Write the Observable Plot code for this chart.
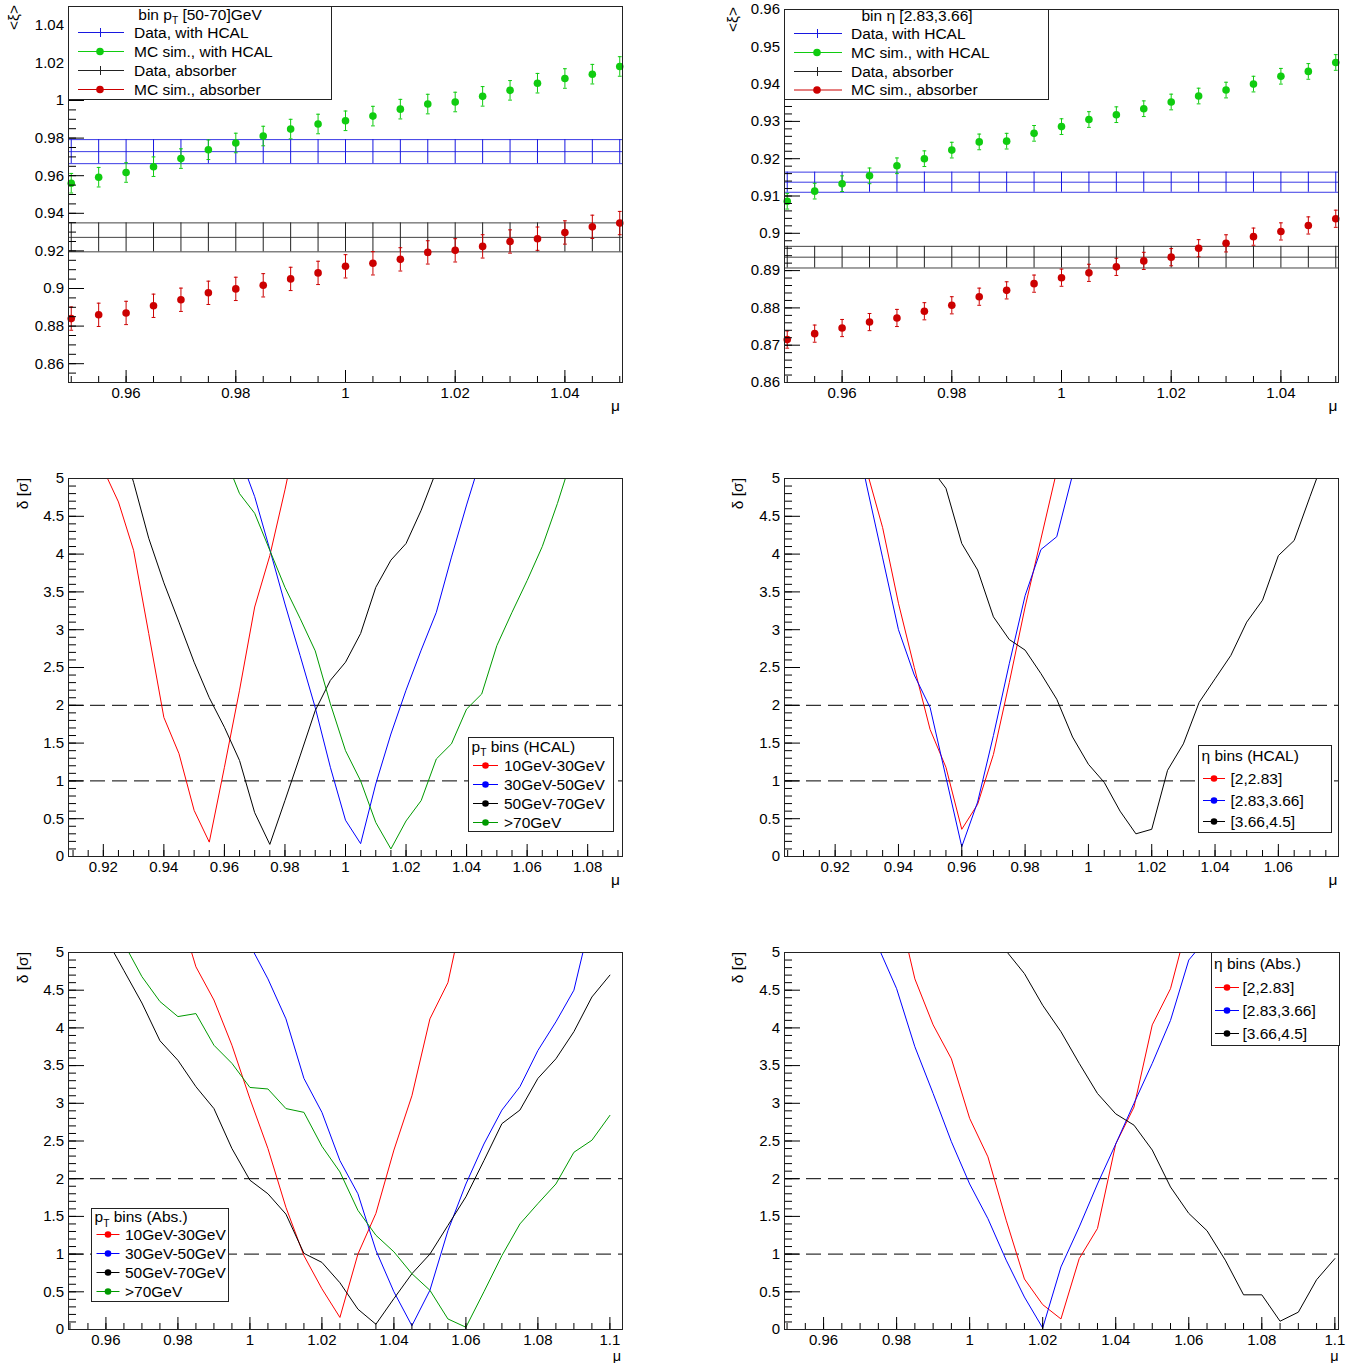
<!DOCTYPE html>
<html><head><meta charset="utf-8">
<script src="https://cdn.jsdelivr.net/npm/d3@7"></script>
<script src="https://cdn.jsdelivr.net/npm/@observablehq/plot@0.6"></script>
<style>
html,body{margin:0;padding:0;background:#fff;}
#root{position:relative;width:1359px;height:1363px;overflow:hidden;background:#fff;}
#root > svg{position:absolute;}
</style></head><body><div id="root"></div>
<script>
const FONT = '"Liberation Sans", Arial, Helvetica, sans-serif';

// ---------------- top panels : <xi> vs mu ----------------
const muTop = [0.95,0.955,0.96,0.965,0.97,0.975,0.98,0.985,0.99,0.995,1,1.005,1.01,1.015,1.02,1.025,1.03,1.035,1.04,1.045,1.05];
// pT bin [50-70] GeV
const mcHcalPt = [0.956,0.9592,0.9617,0.9648,0.9691,0.9738,0.9774,0.9811,0.9848,0.9875,0.9892,0.9917,0.9954,0.9981,0.9992,1.0022,1.0054,1.0092,1.0117,1.014,1.0181];
const mcAbsPt  = [0.884,0.886,0.887,0.8908,0.894,0.8977,0.8998,0.9017,0.9051,0.9083,0.9118,0.9134,0.9155,0.9192,0.9203,0.9224,0.925,0.9265,0.9298,0.9328,0.9348];
const mcHcalPtErr = 0.0052, mcAbsPtErr = 0.0062;
const dataHcalPt = 0.9728, dataHcalPtErr = 0.0064;
const dataAbsPt = 0.9272, dataAbsPtErr = 0.0077;
// eta bin [2.83,3.66]
const mcHcalEta = [0.9086,0.9113,0.9133,0.9154,0.9181,0.92,0.9223,0.9245,0.9247,0.9268,0.9286,0.9305,0.9318,0.9334,0.9352,0.9368,0.9384,0.94,0.9421,0.9434,0.9458];
const mcAbsEta  = [0.8715,0.8731,0.8746,0.8762,0.8773,0.8791,0.8807,0.883,0.8847,0.8865,0.8881,0.8894,0.891,0.8926,0.8936,0.896,0.8973,0.8991,0.9005,0.9021,0.9039];
const mcHcalEtaErr = 0.0021, mcAbsEtaErr = 0.0023;
const dataHcalEta = 0.9137, dataHcalEtaErr = 0.0027;
const dataAbsEta = 0.8936, dataAbsEtaErr = 0.0029;

// ---------------- middle-left : pT bins (HCAL) ----------------
const muHcalPt10 = [0.92,0.925,0.93,0.935,0.94,0.945,0.95,0.955,0.96,0.965,0.97,0.975,0.98,0.985];
const dHcalPt10  = [5.12,4.69,4.05,2.95,1.84,1.36,0.61,0.19,1.18,2.2,3.3,3.98,4.85,5.8];
const muHcalPt30 = [0.965,0.97,0.975,0.98,0.985,0.99,0.995,1,1.005,1.01,1.015,1.02,1.025,1.03,1.035,1.04,1.045];
const dHcalPt30  = [5.3,4.76,4.06,3.34,2.66,1.97,1.18,0.48,0.17,0.96,1.62,2.2,2.73,3.23,3.96,4.65,5.3];
const muHcalPt50 = [0.925,0.93,0.935,0.94,0.945,0.95,0.955,0.96,0.965,0.97,0.975,0.98,0.985,0.99,0.995,1,1.005,1.01,1.015,1.02,1.025,1.03];
const dHcalPt50  = [5.6,4.95,4.21,3.62,3.1,2.57,2.1,1.71,1.27,0.58,0.16,0.74,1.33,1.93,2.33,2.57,2.95,3.56,3.92,4.14,4.58,5.1];
const muHcalPt70 = [0.96,0.965,0.97,0.975,0.98,0.985,0.99,0.995,1,1.005,1.01,1.015,1.02,1.025,1.03,1.035,1.04,1.045,1.05,1.055,1.06,1.065,1.07,1.075];
const dHcalPt70  = [5.3,4.8,4.54,4.05,3.56,3.15,2.72,2.02,1.4,1.0,0.45,0.1,0.47,0.74,1.29,1.49,1.95,2.15,2.79,3.23,3.65,4.1,4.67,5.3];

// ---------------- middle-right : eta bins (HCAL) ----------------
const muHcalEta1 = [0.925,0.93,0.935,0.94,0.945,0.95,0.955,0.96,0.965,0.97,0.975,0.98,0.985,0.99];
const dHcalEta1  = [6.1,5.1,4.35,3.35,2.5,1.68,1.18,0.36,0.69,1.35,2.3,3.3,4.2,5.1];
const muHcalEta2 = [0.925,0.93,0.935,0.94,0.945,0.95,0.955,0.96,0.965,0.97,0.975,0.98,0.985,0.99,0.995,1];
const dHcalEta2  = [5.9,4.9,3.95,3.0,2.4,1.97,1.05,0.13,0.72,1.6,2.55,3.45,4.06,4.23,5.05,5.9];
const muHcalEta3 = [0.95,0.955,0.96,0.965,0.97,0.975,0.98,0.985,0.99,0.995,1,1.005,1.01,1.015,1.02,1.025,1.03,1.035,1.04,1.045,1.05,1.055,1.06,1.065,1.07,1.075];
const dHcalEta3  = [5.15,4.87,4.14,3.79,3.17,2.87,2.73,2.42,2.08,1.58,1.22,0.98,0.6,0.3,0.36,1.14,1.49,2.04,2.35,2.66,3.1,3.39,3.98,4.18,4.76,5.33];

// ---------------- bottom-left : pT bins (Abs.) ----------------
const muAbsPt10 = [0.98,0.985,0.99,0.995,1,1.005,1.01,1.015,1.02,1.025,1.03,1.035,1.04,1.045,1.05,1.055,1.06];
const dAbsPt10  = [5.6,4.81,4.37,3.77,3.06,2.4,1.62,0.98,0.54,0.16,1.0,1.54,2.38,3.1,4.12,4.6,5.7];
const muAbsPt30 = [1,1.005,1.01,1.015,1.02,1.025,1.03,1.035,1.04,1.045,1.05,1.055,1.06,1.065,1.07,1.075,1.08,1.085,1.09,1.095];
const dAbsPt30  = [5.1,4.65,4.12,3.33,2.88,2.24,1.8,1.05,0.5,0.05,0.52,1.31,1.93,2.46,2.91,3.22,3.7,4.08,4.5,5.5];
const muAbsPt50 = [0.96,0.965,0.97,0.975,0.98,0.985,0.99,0.995,1,1.005,1.01,1.015,1.02,1.025,1.03,1.035,1.04,1.045,1.05,1.055,1.06,1.065,1.07,1.075,1.08,1.085,1.09,1.095,1.1];
const dAbsPt50  = [5.19,4.76,4.33,3.83,3.57,3.22,2.93,2.4,1.98,1.8,1.53,1.01,0.89,0.62,0.27,0.07,0.41,0.74,1.0,1.38,1.76,2.24,2.73,2.91,3.33,3.59,3.95,4.41,4.7];
const muAbsPt70 = [0.965,0.97,0.975,0.98,0.985,0.99,0.995,1,1.005,1.01,1.015,1.02,1.025,1.03,1.035,1.04,1.045,1.05,1.055,1.06,1.065,1.07,1.075,1.08,1.085,1.09,1.095,1.1];
const dAbsPt70  = [5.12,4.68,4.35,4.15,4.19,3.77,3.53,3.21,3.19,2.93,2.88,2.43,2.09,1.58,1.25,1.03,0.74,0.52,0.14,0.03,0.5,0.98,1.4,1.67,1.93,2.35,2.51,2.84];

// ---------------- bottom-right : eta bins (Abs.) ----------------
const muAbsEta1 = [0.98,0.985,0.99,0.995,1,1.005,1.01,1.015,1.02,1.025,1.03,1.035,1.04,1.045,1.05,1.055,1.06];
const dAbsEta1  = [5.68,4.65,4.04,3.59,2.8,2.29,1.45,0.67,0.33,0.14,0.94,1.34,2.46,2.95,4.04,4.52,5.44];
const muAbsEta2 = [0.975,0.98,0.985,0.99,0.995,1,1.005,1.01,1.015,1.02,1.025,1.03,1.035,1.04,1.045,1.05,1.055,1.06,1.065];
const dAbsEta2  = [5.07,4.52,3.75,3.13,2.49,1.93,1.47,0.92,0.43,0.02,0.83,1.36,1.93,2.46,3.0,3.53,4.1,4.9,5.19];
const muAbsEta3 = [1.005,1.01,1.015,1.02,1.025,1.03,1.035,1.04,1.045,1.05,1.055,1.06,1.065,1.07,1.075,1.08,1.085,1.09,1.095,1.1];
const dAbsEta3  = [5.6,5.02,4.72,4.3,3.95,3.53,3.13,2.86,2.71,2.38,1.89,1.54,1.31,0.92,0.46,0.46,0.11,0.23,0.66,0.94];

// ---------------- ticks ----------------
const xTicksTop = [0.96,0.98,1,1.02,1.04];
const yTicksTL = [0.86,0.88,0.9,0.92,0.94,0.96,0.98,1,1.02,1.04];
const yTicksTR = [0.86,0.87,0.88,0.89,0.9,0.91,0.92,0.93,0.94,0.95,0.96];
const xTicksML = [0.92,0.94,0.96,0.98,1,1.02,1.04,1.06,1.08];
const xTicksMR = [0.92,0.94,0.96,0.98,1,1.02,1.04,1.06];
const xTicksBot = [0.96,0.98,1,1.02,1.04,1.06,1.08,1.1];
const yTicksDelta = [0,0.5,1,1.5,2,2.5,3,3.5,4,4.5,5];
const sigmaLevels = [1,2];

const cRed = "#ff0000", cBlue = "#0000ff", cBlack = "#000000", cGreen = "#009a00";
const cMcGreen = "#10cc10", cMcRed = "#cc0000", cDataBlue = "#1818e0", cDataBlack = "#222222";

// ---------------- helpers ----------------
const fmt = d => String(+(+d).toFixed(4));
const rng = (a, b, s) => d3.range(Math.round(a / s), Math.round(b / s) + 1).map(i => +(i * s).toFixed(4));
const zip = (xs, ys) => xs.map((x, i) => ({x, y: ys[i]}));
const capSymbol = {draw(ctx, size) { const r = Math.sqrt(size / Math.PI); ctx.moveTo(-r, 0); ctx.lineTo(r, 0); }};
const root = document.getElementById("root");

function panel(cfg) {
  const fw = cfg.width - cfg.ml - cfg.mr, fh = cfg.height - cfg.mt - cfg.mb;
  const svg = Plot.plot({
    width: cfg.width, height: cfg.height,
    marginLeft: cfg.ml, marginRight: cfg.mr, marginTop: cfg.mt, marginBottom: cfg.mb,
    x: {domain: cfg.xDomain, ticks: cfg.xMajor, tickSize: 0, tickPadding: 4.5, tickFormat: fmt, label: null},
    y: {domain: cfg.yDomain, ticks: cfg.yMajor, tickSize: 0, tickPadding: 4.5, tickFormat: fmt, label: null},
    style: {fontFamily: FONT, fontSize: "15px", color: "#000", background: "transparent"},
    marks: [
      ...cfg.marks,
      Plot.tickX(cfg.xMinor, {x: d => d, insetTop: fh - 6, stroke: "#000"}),
      Plot.tickX(cfg.xMajor, {x: d => d, insetTop: fh - 12, stroke: "#000"}),
      Plot.tickY(cfg.yMinor, {y: d => d, insetRight: fw - 8, stroke: "#000"}),
      Plot.tickY(cfg.yMajor, {y: d => d, insetRight: fw - 16, stroke: "#000"}),
      Plot.frame({stroke: "#222"})
    ]
  });
  svg.style.left = cfg.left + "px";
  svg.style.top = cfg.top + "px";
  root.appendChild(svg);
}

function xiMarks(mc1, err1, mc2, err2, d1, e1, d2, e2) {
  const p1 = zip(muTop, mc1), p2 = zip(muTop, mc2);
  const caps = (pts, e) => pts.flatMap(p => [{x: p.x, y: p.y - e}, {x: p.x, y: p.y + e}]);
  const band = (c, e, col) => [
    Plot.ruleY([c - e, c, c + e], {stroke: col, strokeWidth: 1, strokeOpacity: 0.85}),
    Plot.ruleX(muTop, {x: d => d, y1: c - e, y2: c + e, stroke: col, strokeWidth: 1})
  ];
  const mc = (pts, e, col) => [
    Plot.ruleX(pts, {x: "x", y1: d => d.y - e, y2: d => d.y + e, stroke: col, strokeWidth: 1}),
    Plot.dot(caps(pts, e), {x: "x", y: "y", symbol: capSymbol, r: 1.9, stroke: col, fill: "none", strokeWidth: 1}),
    Plot.dot(pts, {x: "x", y: "y", r: 3.8, fill: col, stroke: "none"})
  ];
  return [...band(d1, e1, cDataBlue), ...band(d2, e2, cDataBlack), ...mc(p1, err1, cMcGreen), ...mc(p2, err2, cMcRed)];
}

function deltaMarks(series) {
  return [
    Plot.ruleY(sigmaLevels, {stroke: "#000", strokeWidth: 1, strokeDasharray: "15,7"}),
    ...series.map(([mu, d, col]) => Plot.line(zip(mu, d), {x: "x", y: "y", stroke: col, strokeWidth: 1, clip: true}))
  ];
}

// ---------------- panels ----------------
const L = {left: 0, width: 680, ml: 68, mr: 58};
const R = {left: 716, width: 643, ml: 68, mr: 21};
const T = {top: 0, height: 420, mt: 6, mb: 38};
const M = {top: 466, height: 430, mt: 12, mb: 40};
const B = {top: 940, height: 423, mt: 12, mb: 34};

panel({...L, ...T, xDomain: [0.9495, 1.0505], yDomain: [0.85, 1.05],
  xMajor: xTicksTop, xMinor: rng(0.95, 1.05, 0.005), yMajor: yTicksTL, yMinor: rng(0.85, 1.05, 0.005),
  marks: xiMarks(mcHcalPt, mcHcalPtErr, mcAbsPt, mcAbsPtErr, dataHcalPt, dataHcalPtErr, dataAbsPt, dataAbsPtErr)});
panel({...R, ...T, mt: 9, xDomain: [0.9495, 1.0505], yDomain: [0.86, 0.96],
  xMajor: xTicksTop, xMinor: rng(0.95, 1.05, 0.005), yMajor: yTicksTR, yMinor: rng(0.86, 0.96, 0.002),
  marks: xiMarks(mcHcalEta, mcHcalEtaErr, mcAbsEta, mcAbsEtaErr, dataHcalEta, dataHcalEtaErr, dataAbsEta, dataAbsEtaErr)});
panel({...L, ...M, xDomain: [0.9085, 1.0915], yDomain: [0, 5],
  xMajor: xTicksML, xMinor: rng(0.91, 1.09, 0.005), yMajor: yTicksDelta, yMinor: rng(0, 5, 0.1),
  marks: deltaMarks([[muHcalPt10, dHcalPt10, cRed], [muHcalPt30, dHcalPt30, cBlue], [muHcalPt50, dHcalPt50, cBlack], [muHcalPt70, dHcalPt70, cGreen]])});
panel({...R, ...M, xDomain: [0.904, 1.079], yDomain: [0, 5],
  xMajor: xTicksMR, xMinor: rng(0.905, 1.075, 0.005), yMajor: yTicksDelta, yMinor: rng(0, 5, 0.1),
  marks: deltaMarks([[muHcalEta1, dHcalEta1, cRed], [muHcalEta2, dHcalEta2, cBlue], [muHcalEta3, dHcalEta3, cBlack]])});
panel({...L, ...B, xDomain: [0.9496, 1.1035], yDomain: [0, 5],
  xMajor: xTicksBot, xMinor: rng(0.95, 1.1, 0.005), yMajor: yTicksDelta, yMinor: rng(0, 5, 0.1),
  marks: deltaMarks([[muAbsPt10, dAbsPt10, cRed], [muAbsPt30, dAbsPt30, cBlue], [muAbsPt50, dAbsPt50, cBlack], [muAbsPt70, dAbsPt70, cGreen]])});
panel({...R, ...B, xDomain: [0.9493, 1.101], yDomain: [0, 5],
  xMajor: xTicksBot, xMinor: rng(0.95, 1.1, 0.005), yMajor: yTicksDelta, yMinor: rng(0, 5, 0.1),
  marks: deltaMarks([[muAbsEta1, dAbsEta1, cRed], [muAbsEta2, dAbsEta2, cBlue], [muAbsEta3, dAbsEta3, cBlack]])});

// ---------------- overlay: legends & axis titles ----------------
const ov = d3.create("svg").attr("width", 1359).attr("height", 1363)
  .style("left", "0px").style("top", "0px").style("pointer-events", "none")
  .attr("font-family", FONT).attr("fill", "#000");

function richText(g, x, y, parts, size, anchor) {
  const t = g.append("text").attr("x", x).attr("y", y).attr("font-size", size).attr("text-anchor", anchor || "start");
  let shift = 0;
  parts.forEach(p => {
    const s = t.append("tspan").text(p.t);
    if (p.sub) { s.attr("font-size", size * 0.66).attr("dy", 4.5); shift = 4.5; }
    else if (shift) { s.attr("dy", -shift); shift = 0; }
  });
  return t;
}

function legend(Lg) {
  const g = ov.append("g");
  g.append("rect").attr("x", Lg.x0 + 0.5).attr("y", Lg.y0 + 0.5).attr("width", Lg.x1 - Lg.x0).attr("height", Lg.y1 - Lg.y0)
    .attr("fill", "#fff").attr("stroke", "#222").attr("stroke-width", 1);
  richText(g, Lg.tx, Lg.ty, Lg.title, 15.5, Lg.tAnchor);
  Lg.entries.forEach(e => {
    g.append("line").attr("x1", Lg.s0).attr("x2", Lg.s1).attr("y1", e.y + 0.5).attr("y2", e.y + 0.5).attr("stroke", e.c).attr("stroke-width", 1);
    if (e.kind === "bar") g.append("line").attr("x1", Lg.sm + 0.5).attr("x2", Lg.sm + 0.5).attr("y1", e.y - 4).attr("y2", e.y + 5).attr("stroke", e.c);
    else g.append("circle").attr("cx", Lg.sm).attr("cy", e.y + 0.5).attr("r", Lg.r).attr("fill", e.c);
    g.append("text").attr("x", Lg.textX).attr("y", e.y + 5.7).attr("font-size", 15.5).text(e.label);
  });
}

const xiEntries = (ys) => [
  {label: "Data, with HCAL", c: cDataBlue, kind: "bar", y: ys[0]},
  {label: "MC sim., with HCAL", c: cMcGreen, kind: "dot", y: ys[1]},
  {label: "Data, absorber", c: cDataBlack, kind: "bar", y: ys[2]},
  {label: "MC sim., absorber", c: cMcRed, kind: "dot", y: ys[3]}
];
legend({x0: 68, y0: 6, x1: 331, y1: 99, tx: 200, ty: 19.5, tAnchor: "middle",
  title: [{t: "bin p"}, {t: "T", sub: true}, {t: " [50-70]GeV"}],
  s0: 78, s1: 124, sm: 100, r: 3.8, textX: 134, entries: xiEntries([32, 51, 70, 89])});
legend({x0: 784, y0: 9, x1: 1048, y1: 99, tx: 917, ty: 21, tAnchor: "middle",
  title: [{t: "bin η [2.83,3.66]"}],
  s0: 794, s1: 842, sm: 817, r: 3.8, textX: 851, entries: xiEntries([33, 52, 71, 89.5])});

const ptLabels = ["10GeV-30GeV", "30GeV-50GeV", "50GeV-70GeV", ">70GeV"];
const ptColors = [cRed, cBlue, cBlack, cGreen];
const etaLabels = ["[2,2.83]", "[2.83,3.66]", "[3.66,4.5]"];
const etaColors = [cRed, cBlue, cBlack];
const ent = (labels, colors, ys) => labels.map((l, i) => ({label: l, c: colors[i], kind: "dot", y: ys[i]}));

legend({x0: 468, y0: 737, x1: 613, y1: 831, tx: 471.5, ty: 751.5,
  title: [{t: "p"}, {t: "T", sub: true}, {t: " bins (HCAL)"}],
  s0: 473, s1: 498, sm: 485.5, r: 3.3, textX: 504, entries: ent(ptLabels, ptColors, [765, 784, 803, 822])});
legend({x0: 1198, y0: 745, x1: 1331, y1: 832, tx: 1201.5, ty: 761,
  title: [{t: "η bins (HCAL)"}],
  s0: 1203, s1: 1225, sm: 1214, r: 3.3, textX: 1230.5, entries: ent(etaLabels, etaColors, [778, 800, 821])});
legend({x0: 91, y0: 1208, x1: 228, y1: 1301, tx: 94.5, ty: 1222,
  title: [{t: "p"}, {t: "T", sub: true}, {t: " bins (Abs.)"}],
  s0: 96.5, s1: 119.5, sm: 108, r: 3.3, textX: 125, entries: ent(ptLabels, ptColors, [1234, 1253, 1272, 1291])});
legend({x0: 1211, y0: 952, x1: 1339, y1: 1045, tx: 1214, ty: 969,
  title: [{t: "η bins (Abs.)"}],
  s0: 1215, s1: 1239, sm: 1227, r: 3.3, textX: 1242.5, entries: ent(etaLabels, etaColors, [987, 1010, 1033])});

// axis titles
const yTitle = (x, y, txt) => ov.append("text").attr("transform", `translate(${x},${y}) rotate(-90)`)
  .attr("text-anchor", "end").attr("font-size", 15.5).text(txt);
yTitle(18.5, 5, "<ξ>");
yTitle(738, 7, "<ξ>");
yTitle(27.5, 478, "δ [σ]");
yTitle(743, 478, "δ [σ]");
yTitle(27.5, 952, "δ [σ]");
yTitle(743, 952, "δ [σ]");
const xTitle = (x, y, s) => ov.append("text").attr("x", x).attr("y", y).attr("text-anchor", "end").attr("font-size", s).text("μ");
xTitle(620, 411, 15.5); xTitle(1337.5, 411, 15.5);
xTitle(620, 885, 15.5); xTitle(1337.5, 885, 15.5);
xTitle(621, 1360.5, 14.5); xTitle(1338.5, 1360.5, 14.5);

root.appendChild(ov.node());
</script></body></html>
